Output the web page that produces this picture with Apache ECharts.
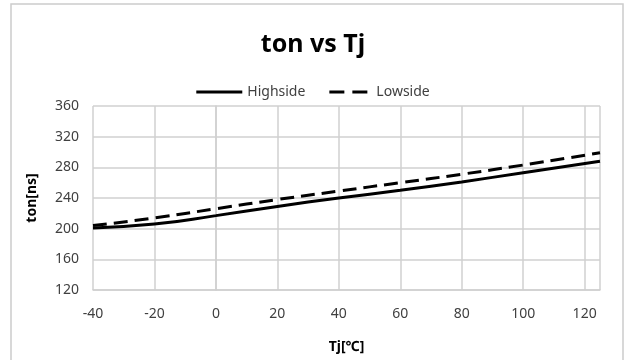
<!DOCTYPE html>
<html>
<head>
<meta charset="utf-8">
<script src="https://cdn.jsdelivr.net/npm/echarts@6/dist/echarts.min.js"></script>
<style>
  html, body { margin: 0; padding: 0; background: #fff; }
  #chart { width: 626px; height: 360px; }
</style>
</head>
<body>
<div id="chart"></div>
<script>
// temperature points (Tj, degC)
var tj = [-40, -20, 0, 20, 40, 60, 80, 100, 125];
// ton in ns
var highside = [201, 206, 217, 229, 240, 250, 261, 273, 288];
var lowside = [204, 214, 226, 238, 249, 260, 271, 283, 299];

var font = '"Noto Sans", sans-serif';
var grid_color = '#d0d0d0';

function pairs(xs, ys) {
    var out = [];
    for (var i = 0; i < xs.length; i++) {
        out.push([xs[i], ys[i]]);
    }
    return out;
}

var chart = echarts.init(document.getElementById('chart'), null, { renderer: 'canvas' });

var option = {
    animation: false,
    backgroundColor: '#fff',
    graphic: [{
        type: 'rect',
        shape: { x: 11, y: 4, width: 612, height: 400 },
        style: { fill: 'none', stroke: '#cccccc', lineWidth: 1.5 }
    }],
    title: {
        text: 'ton vs Tj',
        left: 'center',
        top: 27,
        textStyle: { fontFamily: font, fontSize: 25, fontWeight: 'bold', color: '#000' }
    },
    legend: {
        top: 80,
        left: 'center',
        itemWidth: 46,
        itemHeight: 3,
        itemGap: 24,
        textStyle: { fontFamily: font, fontSize: 14, color: '#404040' },
        data: [
            { name: 'Highside', icon: 'path://M0,0h46v3h-46z' },
            { name: 'Lowside', icon: 'path://M0,0h15v3h-15z M23,0h15v3h-15z' }
        ]
    },
    grid: { left: 93, right: 26, top: 106, bottom: 70 },
    xAxis: {
        type: 'value',
        min: -40,
        max: 125,
        interval: 20,
        name: 'Tj[℃]',
        nameLocation: 'middle',
        nameGap: 50,
        nameTextStyle: { fontFamily: font, fontSize: 14, fontWeight: 'bold', color: '#000' },
        axisLine: { show: true, lineStyle: { color: grid_color, width: 1.5 } },
        axisTick: { show: false },
        axisLabel: { fontFamily: font, fontSize: 14, color: '#404040', margin: 17, showMaxLabel: false },
        splitLine: { show: true, lineStyle: { color: grid_color, width: 1.5 } }
    },
    yAxis: {
        type: 'value',
        min: 120,
        max: 360,
        interval: 40,
        name: 'ton[ns]',
        nameLocation: 'middle',
        nameGap: 54,
        nameTextStyle: { fontFamily: font, fontSize: 14, fontWeight: 'bold', color: '#000' },
        axisLine: { show: true, lineStyle: { color: grid_color, width: 1.5 } },
        axisTick: { show: false },
        axisLabel: { fontFamily: font, fontSize: 14, color: '#404040', margin: 14 },
        splitLine: { show: true, lineStyle: { color: grid_color, width: 1.5 } }
    },
    series: [
        {
            name: 'Highside',
            type: 'line',
            smooth: true,
            symbol: 'none',
            itemStyle: { color: '#000' },
            lineStyle: { color: '#000', width: 3 },
            data: pairs(tj, highside)
        },
        {
            name: 'Lowside',
            type: 'line',
            smooth: true,
            symbol: 'none',
            itemStyle: { color: '#000' },
            lineStyle: { color: '#000', width: 3, type: [14, 7] },
            data: pairs(tj, lowside)
        }
    ]
};

chart.setOption(option);
window.addEventListener('resize', chart.resize);
</script>
</body>
</html>
